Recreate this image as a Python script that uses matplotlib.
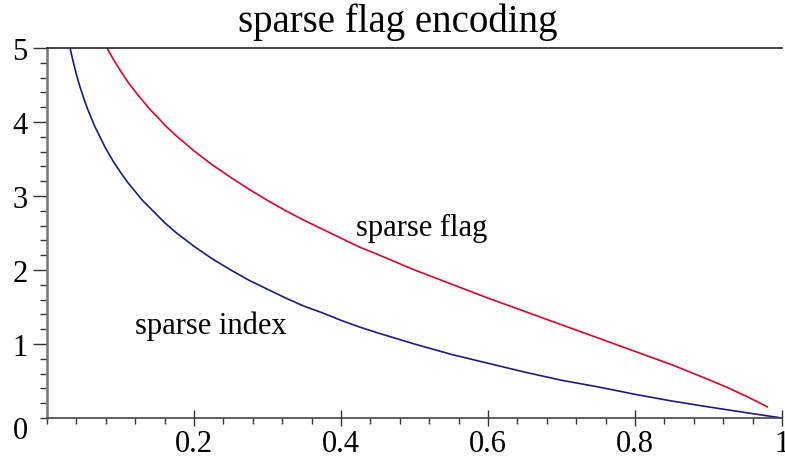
import numpy as np
import matplotlib.pyplot as plt
from matplotlib.ticker import MultipleLocator

plt.rcParams['font.family'] = ['Liberation Serif', 'DejaVu Serif']

# sparse index curve (blue)
x_index = [0.03, 0.035, 0.04, 0.045, 0.05, 0.055, 0.06, 0.065, 0.07, 0.075, 0.08, 0.09,
           0.1, 0.11, 0.12, 0.13, 0.14, 0.15, 0.16, 0.175, 0.2, 0.225, 0.25, 0.275,
           0.3, 0.325, 0.35, 0.375, 0.4, 0.425, 0.45, 0.5, 0.55, 0.6, 0.65, 0.7,
           0.75, 0.8, 0.85, 0.9, 0.95, 1.0]
y_index = [5.06, 4.84, 4.64, 4.47, 4.32, 4.18, 4.06, 3.94, 3.84, 3.74, 3.64, 3.47,
           3.32, 3.18, 3.06, 2.94, 2.84, 2.74, 2.64, 2.51, 2.32, 2.15, 2.0, 1.86,
           1.74, 1.62, 1.51, 1.42, 1.32, 1.23, 1.15, 1.0, 0.86, 0.74, 0.62, 0.51,
           0.42, 0.32, 0.23, 0.15, 0.074, 0.0]

# sparse flag curve (red)
x_flag = [0.08, 0.09, 0.1, 0.11, 0.12, 0.13, 0.14, 0.15, 0.16, 0.175, 0.2, 0.225,
          0.25, 0.275, 0.3, 0.325, 0.35, 0.375, 0.4, 0.425, 0.45, 0.5, 0.55, 0.6,
          0.65, 0.7, 0.75, 0.8, 0.85, 0.875, 0.9, 0.925, 0.95, 0.965, 0.98]
y_flag = [5.03, 4.85, 4.69, 4.54, 4.41, 4.29, 4.17, 4.07, 3.96, 3.82, 3.61, 3.42,
          3.25, 3.09, 2.94, 2.80, 2.67, 2.55, 2.43, 2.31, 2.21, 2.0, 1.81, 1.62,
          1.44, 1.26, 1.08, 0.90, 0.72, 0.62, 0.52, 0.415, 0.30, 0.227, 0.15]

fig = plt.figure(figsize=(7.85, 4.6), dpi=100)
ax = fig.add_axes([0.0599, 0.0891, 0.9363, 0.8044])

ax.plot(x_index, y_index, color='#1a1a8c', lw=1.2)
ax.plot(x_flag, y_flag, color='#e8002a', lw=1.2)

ax.set_xlim(0, 1)
ax.set_ylim(0, 5)

# maple style axes
ax.spines['right'].set_visible(False)
ax.spines['left'].set_color('#777777')
ax.spines['left'].set_linewidth(1.8)
ax.spines['bottom'].set_color('#444444')
ax.spines['bottom'].set_linewidth(1.2)
ax.spines['top'].set_color('#222222')
ax.spines['top'].set_linewidth(1.2)

ax.xaxis.set_minor_locator(MultipleLocator(0.04))
ax.yaxis.set_minor_locator(MultipleLocator(0.2))

ax.set_xticks([0.2, 0.4, 0.6, 0.8, 1.0])
ax.set_xticklabels(['0.2', '0.4', '0.6', '0.8', '1'])
ax.set_yticks([1, 2, 3, 4, 5])
ax.set_yticklabels(['1', '2', '3', '4', '5'])

ax.tick_params(axis='x', which='major', direction='inout', length=12, width=1,
               labelsize=22, pad=2, color='#333333')
ax.tick_params(axis='x', which='minor', direction='out', length=4, width=1, color='#333333')
ax.tick_params(axis='y', which='major', direction='out', length=10, width=1,
               labelsize=22, pad=4, color='#333333')
ax.tick_params(axis='y', which='minor', direction='out', length=5, width=1, color='#333333')

fig.text(20 / 785, 1 - 432 / 460, '0', fontsize=22, ha='center', va='center')

ax.text(0.51, 2.57, 'sparse flag', fontsize=22, ha='center', va='center')
ax.text(0.223, 1.26, 'sparse index', fontsize=22, ha='center', va='center')

fig.text(398 / 785, 1 - 22 / 460, 'sparse flag encoding', fontsize=28,
         ha='center', va='center')

fig.savefig('out.png', dpi=100)
